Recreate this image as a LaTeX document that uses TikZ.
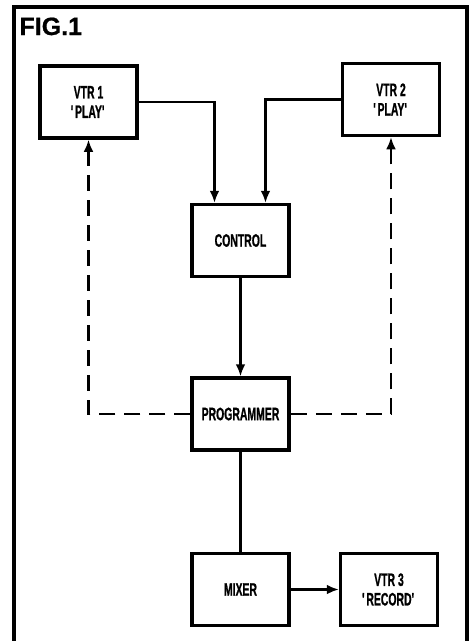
\documentclass[tikz,border=0pt]{standalone}
\usepackage{fontspec}
\newfontfamily\boxfont[FakeStretch=0.58,BoldFeatures={FakeBold=0.8}]{Liberation Sans}
\newfontfamily\figfont[BoldFeatures={FakeBold=0.8}]{Liberation Sans}
\usetikzlibrary{positioning}
\usetikzlibrary{arrows.meta}

\begin{document}
\begin{tikzpicture}[
  x=1pt, y=-1pt,
  node distance=98pt and 48pt,
  unit/.style={draw,line width=3.5pt,minimum width=97pt,minimum height=72pt,align=center,
    font=\boxfont\bfseries\fontsize{18}{19.5}\selectfont},
  feed/.style={line width=2.4pt,-{Latex[length=12pt,width=10pt]}},
  cue/.style={feed,dash pattern=on 16pt off 9pt}
]
\useasboundingbox (0,0) rectangle (474,641);
\draw[line width=3.5pt] (14,641) -- (14,7) -- (467,7) -- (467,641);

\node[anchor=base west,font=\figfont\bfseries\fontsize{25}{25}\selectfont] (title) at (16,35) {FIG.1};

\node[unit] (vtr1) at (88.5,102) {VTR 1\\\textquotesingle PLAY\textquotesingle};
\node[unit] (vtr2) at (391,99.5) {VTR 2\\\textquotesingle PLAY\textquotesingle};
\node[unit] (control) at (240.5,240.5) {CONTROL};
\node[unit,below=of control] (prog) {PROGRAMMER};
\node[unit,below=100pt of prog] (mixer) {MIXER};
\node[unit,right=of mixer] (vtr3) {VTR 3\\\textquotesingle RECORD\textquotesingle};

\draw[feed] (vtr1.east) -| ([xshift=-26pt]control.north);
\draw[feed] (vtr2.west) -| ([xshift=25pt]control.north);
\draw[feed] (control) -- (prog);
\draw[cue] (prog.west) -| (vtr1.south);
\draw[cue] (prog.east) -| (vtr2.south);
\draw[line width=2.4pt] (prog) -- (mixer);
\draw[feed] (mixer) -- (vtr3);

\end{tikzpicture}
\end{document}
